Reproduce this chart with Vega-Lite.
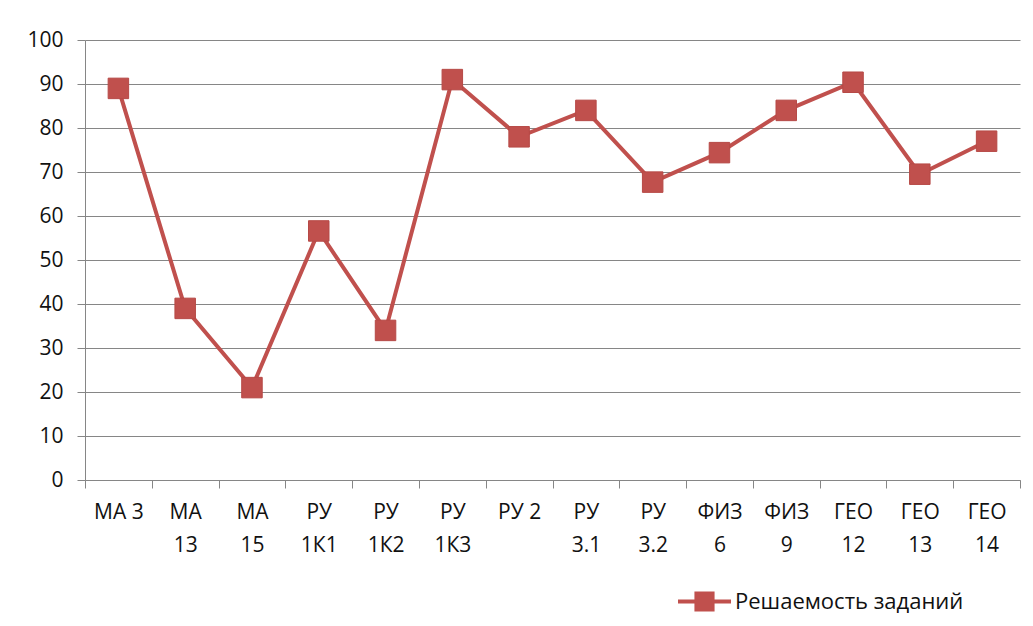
{
  "$schema": "https://vega.github.io/schema/vega-lite/v6.json",
  "width": 935,
  "height": 440,
  "autosize": "none",
  "padding": {"left": 85, "top": 40, "right": 13, "bottom": 146},
  "background": "white",
  "config": {
    "font": "Open Sans",
    "view": {"stroke": null}
  },
  "data": {
    "values": [
      {"task": "МА 3", "value": 89, "series": "Решаемость заданий"},
      {"task": "МА 13", "value": 39, "series": "Решаемость заданий"},
      {"task": "МА 15", "value": 21, "series": "Решаемость заданий"},
      {"task": "РУ 1К1", "value": 56.6, "series": "Решаемость заданий"},
      {"task": "РУ 1К2", "value": 34, "series": "Решаемость заданий"},
      {"task": "РУ 1К3", "value": 91, "series": "Решаемость заданий"},
      {"task": "РУ 2", "value": 78, "series": "Решаемость заданий"},
      {"task": "РУ 3.1", "value": 84, "series": "Решаемость заданий"},
      {"task": "РУ 3.2", "value": 67.7, "series": "Решаемость заданий"},
      {"task": "ФИЗ 6", "value": 74.4, "series": "Решаемость заданий"},
      {"task": "ФИЗ 9", "value": 84, "series": "Решаемость заданий"},
      {"task": "ГЕО 12", "value": 90.4, "series": "Решаемость заданий"},
      {"task": "ГЕО 13", "value": 69.5, "series": "Решаемость заданий"},
      {"task": "ГЕО 14", "value": 77, "series": "Решаемость заданий"}
    ]
  },
  "encoding": {
    "x": {
      "field": "task",
      "type": "nominal",
      "sort": null,
      "scale": {"type": "band", "paddingInner": 0, "paddingOuter": 0},
      "axis": {
        "title": null,
        "labelAngle": 0,
        "labelFont": "Open Sans",
        "labelFontSize": 21,
        "labelColor": "#111111",
        "labelPadding": 13,
        "labelLineHeight": 33,
        "labelBaseline": "top",
        "labelExpr": "!datum.value ? '' : (datum.value == 'МА 3' || datum.value == 'РУ 2' ? [datum.value] : split(datum.value, ' '))",
        "tickBand": "extent",
        "tickSize": 8,
        "tickColor": "#868686",
        "domainColor": "#868686",
        "domainWidth": 1,
        "grid": false
      }
    },
    "y": {
      "field": "value",
      "type": "quantitative",
      "scale": {"domain": [0, 100], "nice": false},
      "axis": {
        "title": null,
        "values": [0, 10, 20, 30, 40, 50, 60, 70, 80, 90, 100],
        "labelFont": "Open Sans",
        "labelFontSize": 21,
        "labelColor": "#111111",
        "labelPadding": 14,
        "tickSize": 8,
        "tickColor": "#868686",
        "domainColor": "#868686",
        "gridColor": "#868686",
        "gridWidth": 1,
        "grid": true
      }
    },
    "color": {
      "field": "series",
      "type": "nominal",
      "scale": {"range": ["#C0504D"]},
      "legend": {
        "title": null,
        "orient": "none",
        "legendX": 593,
        "legendY": 535,
        "symbolType": "M-1,-0.08H1V0.08H-1Z M-0.38,-0.38H0.38V0.38H-0.38Z",
        "symbolSize": 2809,
        "symbolStrokeWidth": 0,
        "labelFont": "Open Sans",
        "labelFontSize": 22,
        "labelColor": "#111111",
        "labelOffset": 4,
        "labelLimit": 400
      }
    }
  },
  "layer": [
    {"mark": {"type": "line", "strokeWidth": 4, "color": "#C0504D"}},
    {"mark": {"type": "point", "shape": "square", "filled": true, "size": 420, "opacity": 1, "color": "#C0504D", "stroke": "#B64946", "strokeWidth": 1}}
  ]
}
